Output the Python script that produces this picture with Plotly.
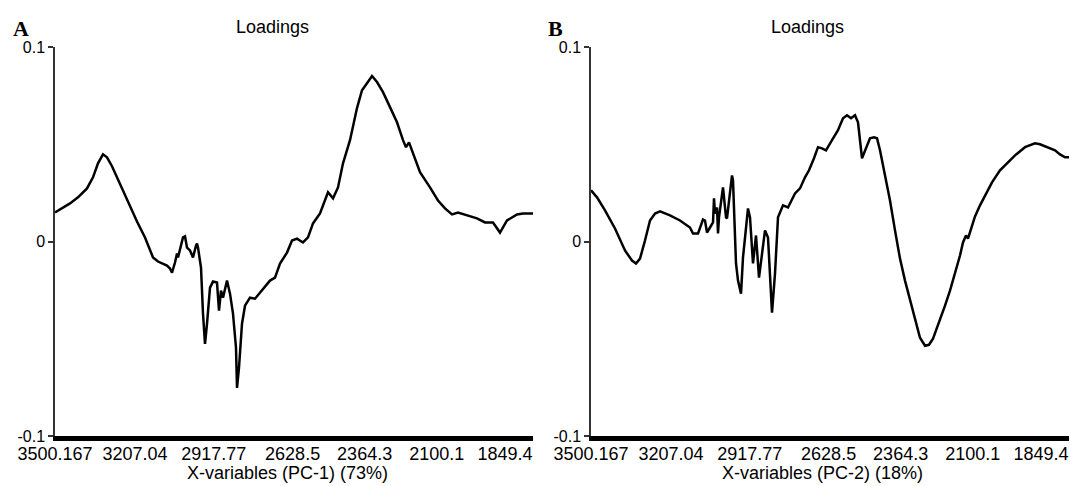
import plotly.graph_objects as go

# Spectral grid: variable index -> wavenumber (cm-1)
first_wavenumber = 3500.167
wavenumber_step = 1.8342
last_variable = 956

# Variable index and PCA loadings for the two components
pc1_index = [0, 14, 30, 46, 64, 76, 86, 96, 104, 114, 124, 136, 150, 164, 180, 190, 196, 206, 214, 224,
             230, 234, 240, 244, 246, 252, 256, 260, 264, 270, 276, 282, 284, 286, 292, 296, 300, 304, 310, 316,
             324, 328, 332, 336, 340, 344, 350, 356, 362, 364, 368, 374, 380, 390, 400, 410, 420, 430, 440, 450,
             464, 474, 484, 496, 506, 516, 530, 544, 546, 556, 566, 576, 590, 604, 614, 624, 634, 644, 656, 670,
             684, 696, 702, 708, 716, 730, 750, 766, 780, 794, 806, 824, 844, 860, 876, 890, 904, 924, 936, 956]
pc1_loading = [0.0149, 0.0170, 0.0196, 0.0227, 0.0273, 0.0330, 0.0402, 0.0448, 0.0433, 0.0387,
               0.0330, 0.0258, 0.0175, 0.0103, 0.0021, -0.0041, -0.0082, -0.0103, -0.0113, -0.0124,
               -0.0139, -0.0160, -0.0108, -0.0062, -0.0082, -0.0026, 0.0021, 0.0026, -0.0031, -0.0046,
               -0.0082, -0.0021, -0.0010, -0.0031, -0.0134, -0.0371, -0.0526, -0.0423, -0.0237, -0.0206,
               -0.0211, -0.0356, -0.0253, -0.0289, -0.0242, -0.0201, -0.0268, -0.0371, -0.0546, -0.0753,
               -0.0649, -0.0423, -0.0330, -0.0289, -0.0294, -0.0263, -0.0237, -0.0201, -0.0186, -0.0113,
               -0.0057, 0.0005, 0.0015, -0.0005, 0.0021, 0.0093, 0.0144, 0.0247, 0.0253, 0.0222,
               0.0278, 0.0402, 0.0521, 0.0686, 0.0778, 0.0814, 0.0851, 0.0820, 0.0768, 0.0691,
               0.0613, 0.0521, 0.0485, 0.0510, 0.0454, 0.0356, 0.0278, 0.0211, 0.0170, 0.0139,
               0.0149, 0.0134, 0.0119, 0.0098, 0.0098, 0.0046, 0.0108, 0.0139, 0.0144, 0.0144]

pc2_index = [0, 12, 28, 48, 68, 82, 90, 98, 108, 118, 128, 138, 158, 178, 198, 204, 214, 224, 228, 232,
             238, 244, 246, 248, 252, 254, 256, 264, 270, 272, 282, 284, 290, 294, 300, 304, 314, 318, 324, 330,
             336, 342, 348, 354, 362, 368, 374, 384, 394, 408, 418, 428, 436, 446, 454, 462, 470, 482, 494, 504,
             512, 520, 528, 534, 538, 542, 550, 558, 566, 572, 578, 588, 598, 608, 618, 628, 638, 648, 658, 668,
             676, 684, 698, 708, 718, 728, 738, 744, 750, 754, 760, 768, 778, 788, 802, 818, 834, 848, 868, 888,
             898, 908, 918, 928, 938, 948, 956]
pc2_loading = [0.0263, 0.0227, 0.0160, 0.0067, -0.0046, -0.0098, -0.0113, -0.0088, 0.0005, 0.0108,
               0.0144, 0.0155, 0.0134, 0.0108, 0.0072, 0.0041, 0.0041, 0.0113, 0.0108, 0.0046,
               0.0072, 0.0098, 0.0222, 0.0144, 0.0175, 0.0041, 0.0124, 0.0278, 0.0124, 0.0119,
               0.0340, 0.0314, -0.0113, -0.0201, -0.0268, -0.0082, 0.0170, 0.0124, -0.0113, 0.0031,
               -0.0186, -0.0062, 0.0057, 0.0021, -0.0366, -0.0165, 0.0124, 0.0186, 0.0175, 0.0247,
               0.0273, 0.0330, 0.0366, 0.0428, 0.0485, 0.0479, 0.0469, 0.0521, 0.0572, 0.0634,
               0.0649, 0.0634, 0.0649, 0.0613, 0.0521, 0.0428, 0.0479, 0.0531, 0.0536, 0.0531,
               0.0469, 0.0340, 0.0211, 0.0057, -0.0088, -0.0201, -0.0304, -0.0407, -0.0495, -0.0536,
               -0.0531, -0.0500, -0.0407, -0.0330, -0.0253, -0.0165, -0.0072, -0.0005, 0.0031, 0.0015,
               0.0067, 0.0129, 0.0186, 0.0237, 0.0304, 0.0366, 0.0407, 0.0443, 0.0485, 0.0505,
               0.0500, 0.0490, 0.0479, 0.0469, 0.0448, 0.0433, 0.0433]

# Wavenumber ticks on the x axis
tick_wavenumbers = [3500.167, 3207.04, 2917.77, 2628.5, 2364.3, 2100.1, 1849.4]
tick_labels = ["3500.167", "3207.04", "2917.77", "2628.5", "2364.3", "2100.1", "1849.4"]
y_ticks = [-0.1, 0, 0.1]
y_labels = ["-0.1", "0", "0.1"]

panels = ["A", "B"]
x_titles = ["X-variables (PC-1) (73%)", "X-variables (PC-2) (18%)"]


def to_wavenumber(indices):
    return [first_wavenumber - i * wavenumber_step for i in indices]


W, H = 1071, 486
FONT = "Liberation Sans, Arial, sans-serif"

fig = go.Figure()
fig.add_trace(go.Scatter(x=to_wavenumber(pc1_index), y=pc1_loading, mode="lines",
                         line=dict(color="black", width=2.5), xaxis="x", yaxis="y"))
fig.add_trace(go.Scatter(x=to_wavenumber(pc2_index), y=pc2_loading, mode="lines",
                         line=dict(color="black", width=2.5), xaxis="x2", yaxis="y2"))

x_end = first_wavenumber - last_variable * wavenumber_step
xaxis_style = dict(range=[first_wavenumber, x_end], showline=True, linewidth=5, linecolor="black",
                   ticks="", tickvals=tick_wavenumbers, ticktext=tick_labels, showgrid=False,
                   zeroline=False, automargin=False, ticklabelstandoff=-3,
                   tickfont=dict(family=FONT, size=18, color="black"))
yaxis_style = dict(range=[-0.1, 0.1], showline=True, linewidth=1.5, linecolor="#333",
                   ticks="outside", ticklen=5, tickwidth=1.5, tickcolor="#333",
                   tickvals=y_ticks, ticktext=y_labels, showgrid=False, zeroline=False,
                   automargin=False,
                   tickfont=dict(family=FONT, size=16, color="black"))

fig.update_layout(
    width=W, height=H,
    margin=dict(l=0, r=0, t=47, b=50),
    paper_bgcolor="white", plot_bgcolor="white",
    showlegend=False,
    xaxis=dict(domain=[55 / W, 533 / W], anchor="y", **xaxis_style),
    yaxis=dict(domain=[0, 1], anchor="x", **yaxis_style),
    xaxis2=dict(domain=[591 / W, 1069 / W], anchor="y2", **xaxis_style),
    yaxis2=dict(domain=[0, 1], anchor="x2", **yaxis_style),
)

plot_h = H - 47 - 50
def py(pixel_y):
    return (H - 50 - pixel_y) / plot_h

title_x = [272 / W, 807 / W]
xtitle_x = [287 / W, 822 / W]
letter_x = [21 / W, 555 / W]
for i in range(2):
    fig.add_annotation(x=letter_x[i], y=py(28), xref="paper", yref="paper", text="<b>" + panels[i] + "</b>",
                       showarrow=False, xanchor="center", yanchor="middle",
                       font=dict(family="Liberation Serif, Times New Roman, serif", size=22, color="black"))
    fig.add_annotation(x=title_x[i], y=py(27), xref="paper", yref="paper", text="Loadings",
                       showarrow=False, xanchor="center", yanchor="middle",
                       font=dict(family=FONT, size=18, color="black"))
    fig.add_annotation(x=xtitle_x[i], y=py(473), xref="paper", yref="paper", text=x_titles[i],
                       showarrow=False, xanchor="center", yanchor="middle",
                       font=dict(family=FONT, size=18, color="black"))

fig.write_html("out.html")
